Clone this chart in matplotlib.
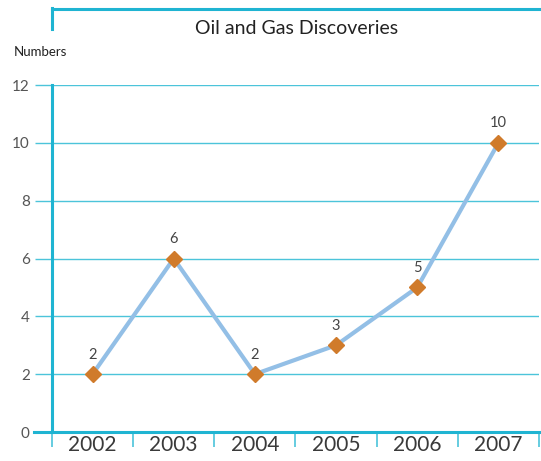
import matplotlib.pyplot as plt
from matplotlib.lines import Line2D

plt.rcParams['font.family'] = ['Lato', 'DejaVu Sans']

# data
years = ['2002', '2003', '2004', '2005', '2006', '2007']
discoveries = [2, 6, 2, 3, 5, 10]
y_ticks = [0, 2, 4, 6, 8, 10, 12]

cyan = '#1fb4d2'
grid_c = '#4cc4da'
line_c = '#93bfe6'
marker_c = '#d07b2b'
text_c = '#3a3a3a'

fig = plt.figure(figsize=(5.41, 4.61), dpi=100)
ax = fig.add_axes([52/541, 1 - 432/461, 487/541, 347/461])

x = range(len(years))
ax.plot(x, discoveries, color=line_c, lw=3, zorder=3)
ax.plot(x, discoveries, ls='none', marker='D', ms=8, color=marker_c, zorder=4)
for xi, v in zip(x, discoveries):
    ax.annotate(str(v), (xi, v), xytext=(0, 9), textcoords='offset points',
                ha='center', va='bottom', fontsize=10.5, color='#444444')

ax.set_xlim(-0.5, len(years) - 0.5)
ax.set_ylim(0, 12)

# horizontal grid lines extending into the tick area
ax.set_yticks(y_ticks)
ax.set_yticklabels([str(t) for t in y_ticks], fontsize=11, color='#555555')
ax.tick_params(axis='y', length=12, width=1, color=grid_c, pad=4)
for t in y_ticks[1:]:
    ax.axhline(t, color=grid_c, lw=1, zorder=1)

# category separators below the axis
ax.set_xticks([i - 0.5 for i in range(len(years) + 1)], minor=False)
ax.set_xticklabels([])
ax.tick_params(axis='x', direction='out', length=11, width=1.2, color=grid_c)
ax.set_xticks(list(x), minor=True)
ax.set_xticklabels(years, minor=True, fontsize=15, color=text_c)
ax.tick_params(axis='x', which='minor', length=0, pad=2)

for s in ['top', 'right']:
    ax.spines[s].set_visible(False)
ax.spines['left'].set_color(cyan)
ax.spines['left'].set_linewidth(2.2)
ax.spines['bottom'].set_color(cyan)
ax.spines['bottom'].set_linewidth(2.2)
ax.spines['bottom'].set_bounds(-0.72, 5.5)

# title frame
fig.add_artist(Line2D([52/541, 52/541], [1 - 8/461, 1 - 29/461], color=cyan, lw=2.2))
fig.add_artist(Line2D([52/541, 1.0], [1 - 9/461, 1 - 9/461], color=cyan, lw=2.2))
fig.text(297/541, 1 - 28/461, 'Oil and Gas Discoveries', ha='center', va='center',
         fontsize=14, color='#222222')
fig.text(14/541, 1 - 52/461, 'Numbers', ha='left', va='center', fontsize=9.5, color='#222222')

fig.savefig('out.png', dpi=100)
